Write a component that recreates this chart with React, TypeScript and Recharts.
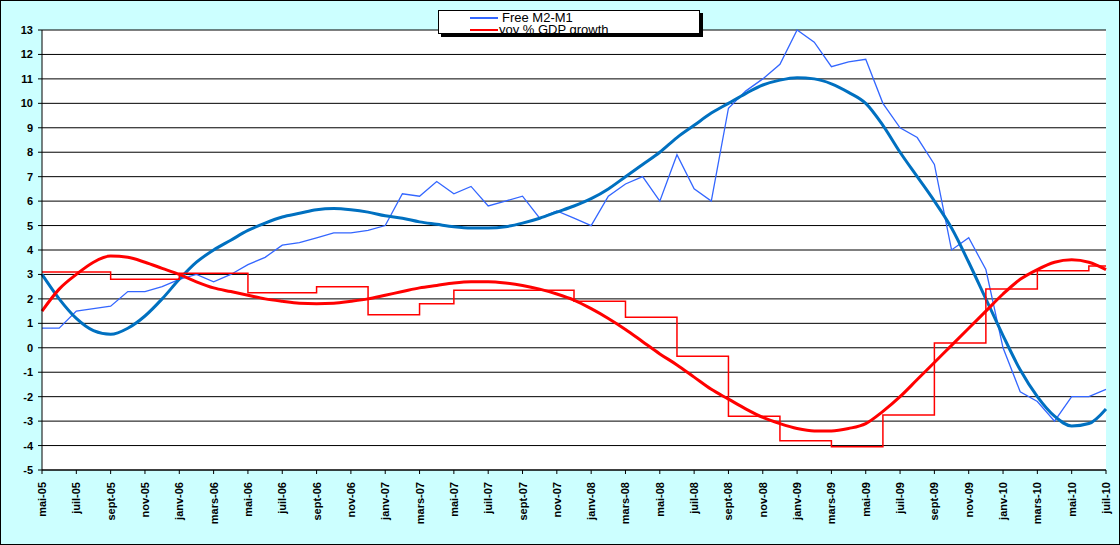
import { ComposedChart, Line, XAxis, YAxis, CartesianGrid } from 'recharts';

const monthNames = ['janv', 'févr', 'mars', 'avr', 'mai', 'juin', 'juil', 'août', 'sept', 'oct', 'nov', 'déc'];
// month index 0 = mai-05
const monthLabels = Array.from({ length: 63 }, (_, i) => {
  const m = (4 + i) % 12;
  const y = 5 + Math.floor((4 + i) / 12);
  return `${monthNames[m]}-${String(y).padStart(2, '0')}`;
});

const freeM2M1 = [
  0.8, 0.8, 1.5, 1.6, 1.7, 2.3, 2.3, 2.5, 2.8, 3.0, 2.7, 3.0, 3.4, 3.7, 4.2, 4.3, 4.5, 4.7, 4.7, 4.8,
  5.0, 6.3, 6.2, 6.8, 6.3, 6.6, 5.8, 6.0, 6.2, 5.3, 5.6, 5.3, 5.0, 6.2, 6.7, 7.0, 6.0, 7.9, 6.5, 6.0,
  9.8, 10.5, 11.0, 11.6, 13.0, 12.5, 11.5, 11.7, 11.8, 10.0, 9.0, 8.6, 7.5, 4.0, 4.5, 3.2, 0.0, -1.8, -2.2, -3.0,
  -2.0, -2.0, -1.7,
];

const freeTrend = [
  3.0, 2.0, 1.2, 0.7, 0.55, 0.8, 1.3, 2.0, 2.8, 3.5, 4.0, 4.4, 4.8, 5.1, 5.35, 5.5, 5.65, 5.7, 5.65, 5.55,
  5.4, 5.3, 5.15, 5.05, 4.95, 4.9, 4.9, 4.95, 5.1, 5.3, 5.55, 5.8, 6.1, 6.5, 7.0, 7.5, 8.0, 8.6, 9.1, 9.6,
  10.0, 10.4, 10.75, 10.95, 11.05, 11.0, 10.8, 10.45, 10.0, 9.1, 8.0, 7.0, 6.0, 4.9, 3.5, 2.0, 0.5, -0.9, -2.0, -2.8,
  -3.2, -3.1, -2.5,
];

const gdpGrowth = [
  3.1, 3.1, 3.1, 3.1, 2.8, 2.8, 2.8, 2.8, 3.05, 3.05, 3.05, 3.05, 2.25, 2.25, 2.25, 2.25, 2.5, 2.5, 2.5, 1.35,
  1.35, 1.35, 1.8, 1.8, 2.35, 2.35, 2.35, 2.35, 2.35, 2.35, 2.35, 1.9, 1.9, 1.9, 1.25, 1.25, 1.25, -0.35, -0.35, -0.35,
  -2.8, -2.8, -2.8, -3.8, -3.8, -3.8, -4.05, -4.05, -4.05, -2.75, -2.75, -2.75, 0.2, 0.2, 0.2, 2.4, 2.4, 2.4, 3.15, 3.15,
  3.15, 3.35, 3.35,
];

const gdpTrend = [
  1.5, 2.4, 3.0, 3.5, 3.75, 3.7, 3.5, 3.25, 3.0, 2.7, 2.45, 2.3, 2.15, 2.0, 1.9, 1.82, 1.8, 1.82, 1.9, 2.0,
  2.15, 2.3, 2.45, 2.55, 2.65, 2.7, 2.7, 2.65, 2.55, 2.4, 2.2, 1.95, 1.6, 1.2, 0.75, 0.25, -0.25, -0.7, -1.2, -1.7,
  -2.1, -2.5, -2.85, -3.1, -3.3, -3.4, -3.4, -3.3, -3.1, -2.6, -2.0, -1.3, -0.6, 0.1, 0.8, 1.5, 2.2, 2.8, 3.2, 3.5,
  3.6, 3.5, 3.2,
];

const data = monthLabels.map((label, i) => ({
  i,
  label,
  free: freeM2M1[i],
  freeTrend: freeTrend[i],
  gdp: gdpGrowth[i],
  gdpTrend: gdpTrend[i],
}));

const xTicks = monthLabels.map((_, i) => i).filter((i) => i % 2 === 0);
const yTicks = Array.from({ length: 19 }, (_, i) => i - 5);

const font = 'Arial, "Liberation Sans", sans-serif';

const XTick = ({ x, y, payload }: any) => (
  <text
    x={x}
    y={y + 6}
    transform={`rotate(-90 ${x} ${y + 6})`}
    textAnchor="end"
    dominantBaseline="central"
    style={{ fontSize: 11, fontWeight: 700, fontFamily: font }}
    fill="#000"
  >
    {monthLabels[payload.value]}
  </text>
);

const YTick = ({ x, y, payload }: any) => (
  <text
    x={x - 3}
    y={y}
    textAnchor="end"
    dominantBaseline="central"
    style={{ fontSize: 11, fontWeight: 700, fontFamily: font }}
    fill="#000"
  >
    {payload.value}
  </text>
);

export default function App() {
  return (
    <div
      style={{
        position: 'absolute',
        left: 0,
        top: 0,
        width: 1118,
        height: 543,
        background: '#ccffff',
        border: '1px solid #000',
        fontFamily: font,
      }}
    >
      <div
        style={{
          position: 'absolute',
          left: 437,
          top: 9,
          width: 260,
          height: 22,
          background: '#fff',
          border: '1px solid #000',
          boxShadow: '3px 3px 0 #000',
          overflow: 'hidden',
          fontSize: 13,
          lineHeight: '12px',
          zIndex: 2,
        }}
      >
        <div style={{ display: 'flex', alignItems: 'center', marginTop: 1 }}>
          <span style={{ display: 'inline-block', width: 28, height: 2, background: '#3366ff', marginLeft: 31, marginRight: 4 }} />
          Free M2-M1
        </div>
        <div style={{ display: 'flex', alignItems: 'center' }}>
          <span style={{ display: 'inline-block', width: 28, height: 2, background: '#ff0000', marginLeft: 31, marginRight: 1 }} />
          yoy % GDP growth
        </div>
      </div>
      <ComposedChart width={1118} height={543} data={data} margin={{ top: 29, right: 13, left: 0, bottom: 0 }}>
        <CartesianGrid vertical={false} stroke="#000" fill="#fff" />
        <XAxis
          dataKey="i"
          type="number"
          domain={[0, 62]}
          ticks={xTicks}
          interval={0}
          tick={<XTick />}
          height={74}
          stroke="#000"
          tickLine={{ stroke: '#000' }}
          tickSize={4}
        />
        <YAxis
          domain={[-5, 13]}
          ticks={yTicks}
          interval={0}
          width={41}
          stroke="#000"
          tickSize={4}
          tick={<YTick />}
        />
        <Line dataKey="free" type="linear" stroke="#3366ff" strokeWidth={1.3} dot={false} isAnimationActive={false} />
        <Line dataKey="freeTrend" type="monotone" stroke="#0070c0" strokeWidth={3} dot={false} isAnimationActive={false} />
        <Line dataKey="gdp" type="stepAfter" stroke="#ff0000" strokeWidth={1.5} dot={false} isAnimationActive={false} />
        <Line dataKey="gdpTrend" type="monotone" stroke="#ff0000" strokeWidth={3} dot={false} isAnimationActive={false} />
      </ComposedChart>
    </div>
  );
}
